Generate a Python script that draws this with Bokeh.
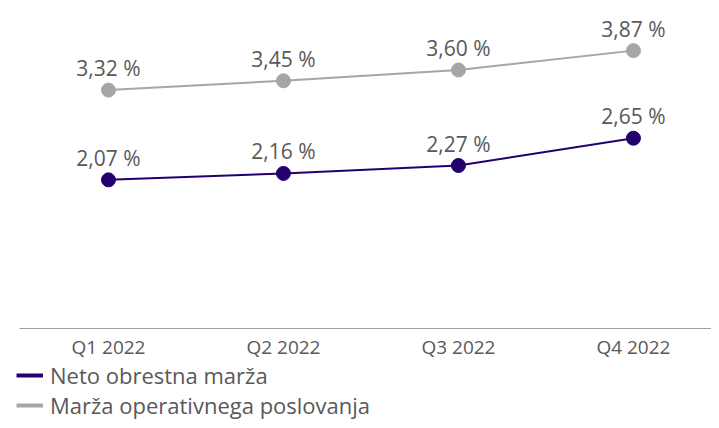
from bokeh.plotting import figure
from bokeh.models import (ColumnDataSource, Legend, LegendItem, Range1d, LabelSet,
                          FixedTicker)
from bokeh.core.properties import value
from bokeh.embed import file_html
from bokeh.resources import INLINE

quarters = ["Q1 2022", "Q2 2022", "Q3 2022", "Q4 2022"]
neto = [2.07, 2.16, 2.27, 2.65]
operativna = [3.32, 3.45, 3.60, 3.87]
neto_labels = ["2,07 %", "2,16 %", "2,27 %", "2,65 %"]
oper_labels = ["3,32 %", "3,45 %", "3,60 %", "3,87 %"]

PURPLE = "#23006e"
GREY = "#a6a6a6"
TXT = "#595959"
FONT = "Open Sans"

xs = list(range(len(quarters)))
src_n = ColumnDataSource(dict(x=xs, y=neto, t=neto_labels))
src_o = ColumnDataSource(dict(x=xs, y=operativna, t=oper_labels))

p = figure(width=711, height=420, x_range=Range1d(-0.617, 3.446),
           y_range=Range1d(-1.281, 4.568), output_backend="svg", toolbar_location=None,
           min_border_left=0, min_border_right=0, min_border_top=0, min_border_bottom=0)
p.outline_line_color = None
p.grid.visible = False
p.yaxis.visible = False

r_o = p.line("x", "y", source=src_o, color=GREY, line_width=2)
p.scatter("x", "y", source=src_o, color=GREY, size=14)
r_n = p.line("x", "y", source=src_n, color=PURPLE, line_width=2)
p.scatter("x", "y", source=src_n, color=PURPLE, size=14)

for s in (src_o, src_n):
    p.add_layout(LabelSet(x="x", y="y", text="t", source=s, y_offset=14,
                          text_align="center", text_baseline="alphabetic",
                          text_font=value(FONT), text_font_size="21px", text_color=TXT))

ax = p.xaxis[0]
ax.fixed_location = 0
ax.bounds = (-0.509, 3.446)
ax.ticker = FixedTicker(ticks=xs, minor_ticks=[])
ax.major_label_overrides = {i: q for i, q in zip(xs, quarters)}
ax.axis_line_color = "#a0a0a0"
ax.axis_line_width = 1
ax.major_tick_line_color = None
ax.minor_tick_line_color = None
ax.major_tick_out = 0
ax.major_tick_in = 0
ax.major_label_text_font = FONT
ax.major_label_text_font_size = "19px"
ax.major_label_text_color = TXT
ax.major_label_standoff = 5

l_n = p.line(x=[0], y=[float("nan")], color=PURPLE, line_width=4)
l_o = p.line(x=[0], y=[float("nan")], color=GREY, line_width=4)
legend = Legend(items=[LegendItem(label="Neto obrestna marža", renderers=[l_n]),
                       LegendItem(label="Marža operativnega poslovanja", renderers=[l_o])],
                location=(16, 0), orientation="vertical",
                label_text_font=FONT, label_text_font_size="22px", label_text_color=TXT,
                glyph_width=27, glyph_height=24, label_standoff=7, spacing=0,
                padding=0, margin=0, border_line_color=None, background_fill_alpha=0,
                label_height=24)
p.add_layout(legend, "center")

open("out.html", "w").write(file_html(p, INLINE))
